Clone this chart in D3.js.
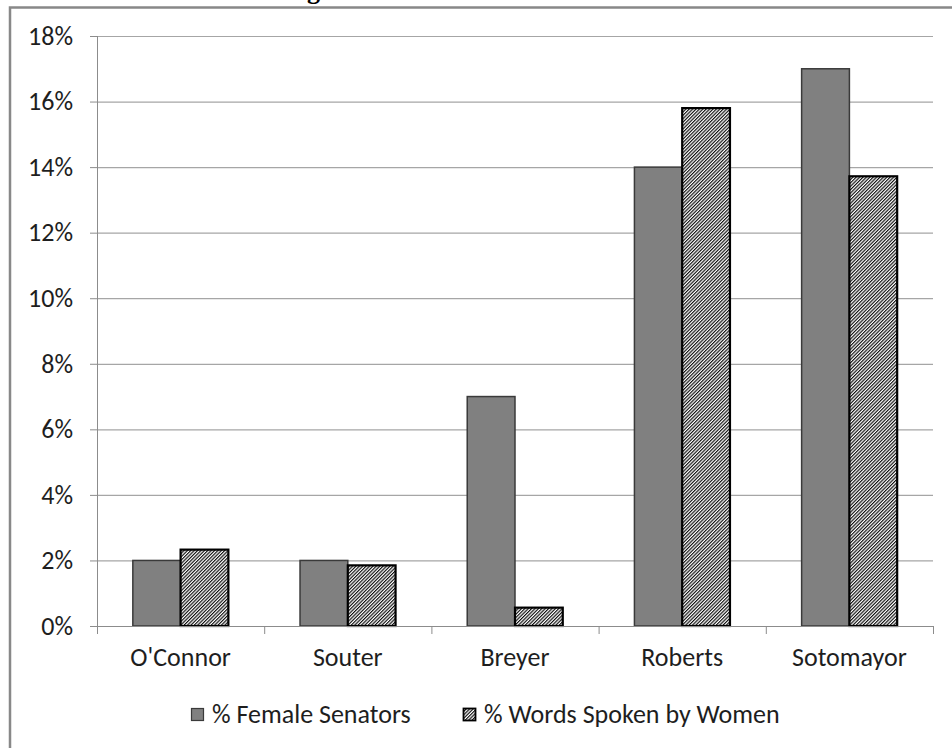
<!DOCTYPE html>
<html>
<head>
<meta charset="utf-8">
<script src="https://cdn.jsdelivr.net/npm/d3@7/dist/d3.min.js"></script>
<style>
  html, body { margin: 0; padding: 0; background: #fff; }
  svg { display: block; }
  .lbl { font-family: Carlito, Calibri, Lato, sans-serif; fill: #1e1e1e; }
</style>
</head>
<body>
<svg id="chart" width="952" height="748"></svg>
<script>
const categories = ["O'Connor", "Souter", "Breyer", "Roberts", "Sotomayor"];
const seriesNames = ["% Female Senators", "% Words Spoken by Women"];
const femaleSenators = [2, 2, 7, 14, 17];
const wordsByWomen = [2.33, 1.85, 0.56, 15.8, 13.72];
const yTicks = [0, 2, 4, 6, 8, 10, 12, 14, 16, 18];

const svg = d3.select("#chart");
const W = 952, H = 748;
const m = { left: 97, right: 19, top: 36, bottom: 122 };
const plotW = W - m.left - m.right;
const plotH = H - m.top - m.bottom;
const FS = "26px";

const defs = svg.append("defs");
const pat = defs.append("pattern")
  .attr("id", "hatch")
  .attr("patternUnits", "userSpaceOnUse")
  .attr("width", 2.4).attr("height", 2.4)
  .attr("patternTransform", "rotate(45)");
pat.append("rect").attr("width", 2.4).attr("height", 2.4).attr("fill", "#fff");
pat.append("line").attr("x1", 0.6).attr("y1", 0).attr("x2", 0.6).attr("y2", 2.4)
  .attr("stroke", "#000").attr("stroke-width", 1.1);

// outer frame
svg.append("rect").attr("x", 10).attr("y", 7.5).attr("width", 1000).attr("height", 800)
  .attr("fill", "none").attr("stroke", "#888").attr("stroke-width", 2.5);

// partially visible title (cut off at the top, as in the source)
svg.append("text").attr("x", 307).attr("y", -1)
  .attr("font-family", "'Liberation Serif', 'DejaVu Serif', serif")
  .attr("font-weight", "bold").attr("font-size", 26).attr("fill", "#000")
  .text("g");

const g = svg.append("g").attr("transform", `translate(${m.left},${m.top})`);

const x0 = d3.scaleBand().domain(categories).range([0, plotW]).paddingInner(0).paddingOuter(0);
const bw = x0.bandwidth() / 3.5;
const x1 = d3.scaleBand().domain(seriesNames).range([bw * 0.75, bw * 2.75]);
const y = d3.scaleLinear().domain([0, 18]).range([plotH, 0]);

// gridlines
g.append("g").selectAll("line").data(yTicks.filter(t => t > 0)).join("line")
  .attr("x1", 0).attr("x2", plotW)
  .attr("y1", d => y(d) + 0.5).attr("y2", d => y(d) + 0.5)
  .attr("stroke", "#a6a6a6").attr("stroke-width", 1.2);

// y axis
const yAxis = g.append("g").call(d3.axisLeft(y).tickValues(yTicks).tickSize(7).tickPadding(17).tickFormat(d => d + "%"));
yAxis.select(".domain").attr("stroke", "#8c8c8c").attr("d", `M0.5,0V${plotH}`);
yAxis.selectAll(".tick line").attr("stroke", "#8c8c8c");
yAxis.selectAll(".tick text").attr("class", "lbl").style("font-size", FS).attr("fill", "#1e1e1e");

// bars
const data = categories.map((c, i) => ({ c, vals: [femaleSenators[i], wordsByWomen[i]] }));
const grp = g.append("g").selectAll("g").data(data).join("g")
  .attr("transform", d => `translate(${x0(d.c)},0)`);
grp.selectAll("rect").data(d => d.vals.map((v, j) => ({ s: seriesNames[j], v, j }))).join("rect")
  .attr("x", d => x1(d.s))
  .attr("width", x1.bandwidth())
  .attr("y", d => y(d.v))
  .attr("height", d => plotH - y(d.v))
  .attr("fill", d => d.j === 0 ? "#808080" : "url(#hatch)")
  .attr("stroke", d => d.j === 0 ? "#3a3a3a" : "#000")
  .attr("stroke-width", d => d.j === 0 ? 1.5 : 2.2);

// x axis
const xAxis = g.append("g").attr("transform", `translate(0,${plotH})`)
  .call(d3.axisBottom(x0).tickSize(0).tickPadding(22));
xAxis.select(".domain").attr("stroke", "#8c8c8c").attr("d", `M0,0.5H${plotW}`);
xAxis.selectAll(".tick text").attr("class", "lbl").style("font-size", FS).attr("fill", "#1e1e1e");
// category boundary ticks
xAxis.append("g").selectAll("line").data(d3.range(categories.length + 1)).join("line")
  .attr("x1", i => i * x0.bandwidth() + 0.5).attr("x2", i => i * x0.bandwidth() + 0.5)
  .attr("y1", 0).attr("y2", 8).attr("stroke", "#8c8c8c");

// legend
const legendX = [191, 463];
const lg = svg.append("g").selectAll("g").data(seriesNames).join("g")
  .attr("transform", (d, i) => `translate(${legendX[i]},708)`);
lg.append("rect").attr("x", 0.5).attr("y", 0.5).attr("width", 12).attr("height", 12)
  .attr("fill", (d, i) => i === 0 ? "#808080" : "url(#hatch)")
  .attr("stroke", (d, i) => i === 0 ? "#3a3a3a" : "#000")
  .attr("stroke-width", (d, i) => i === 0 ? 1.2 : 1.8);
lg.append("text").attr("class", "lbl").attr("x", 21).attr("y", 15).style("font-size", FS).text(d => d);
</script>
</body>
</html>
